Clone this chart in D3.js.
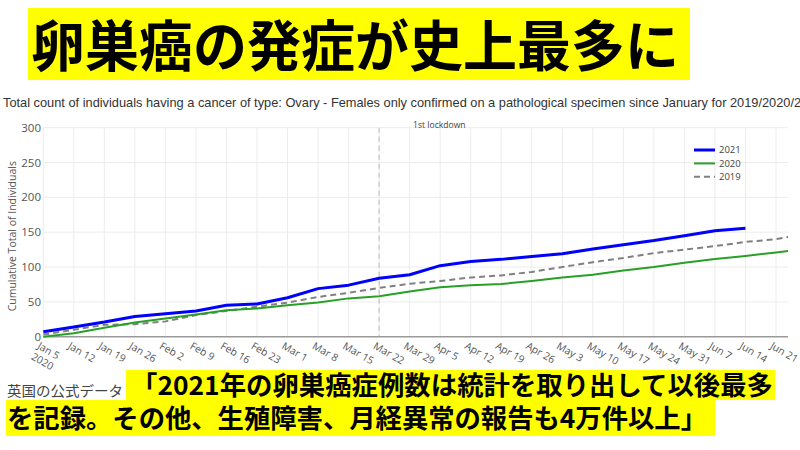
<!DOCTYPE html>
<html>
<head>
<meta charset="utf-8">
<script src="https://cdn.jsdelivr.net/npm/d3@7"></script>
<style>
  body { margin: 0; background: #fff; }
  svg { display: block; }
</style>
</head>
<body>
<svg width="800" height="450"></svg>
<script>
// weekly dates (week ending), 2020 calendar used as the shared x axis
const weeks = ["2020-01-05","2020-01-12","2020-01-19","2020-01-26","2020-02-02","2020-02-09",
  "2020-02-16","2020-02-23","2020-03-01","2020-03-08","2020-03-15","2020-03-22","2020-03-29",
  "2020-04-05","2020-04-12","2020-04-19","2020-04-26","2020-05-03","2020-05-10","2020-05-17",
  "2020-05-24","2020-05-31","2020-06-07","2020-06-14","2020-06-21","2020-06-28"];

const v2021 = [7,14,21,29,33,37,45,47,56,69,74,84,89,102,108,111,115,119,126,132,138,145,152,155.5];
const v2020 = [0,5,13,20.5,26,32,38,40.5,45,49,55,58,65,71,74,75.6,80,85,89,95,100,106,111.5,116,121,126];
const v2019 = [3,10,17,18,22,31,37,43,49,57,63,70,76,80,85,88,93,100,107,113,120,125,130,136,140,148];

const yTicks = [0,50,100,150,200,250,300];
const lockdownDate = "2020-03-22";
const seriesNames = ["2021","2020","2019"];

const svg = d3.select("svg");
const parse = d3.timeParse("%Y-%m-%d");
const dates = weeks.map(parse);

// Headline banner
svg.append("rect")
    .attr("x", 28).attr("y", 8)
    .attr("width", 662).attr("height", 72)
    .attr("fill", "#ffff00");
svg.append("text")
    .attr("x", 31).attr("y", 66)
    .attr("textLength", 648)
    .attr("lengthAdjust", "spacingAndGlyphs")
    .style("font-family", "'Noto Sans CJK JP'")
    .style("font-weight", "bold")
    .style("font-size", "55px")
    .text("卵巣癌の発症が史上最多に");

// Chart subtitle (runs off the right edge like the original screenshot)
svg.append("text")
    .attr("x", 3).attr("y", 107)
    .style("font-family", "'Liberation Sans', Arial, sans-serif")
    .style("font-size", "12.8px")
    .style("fill", "#333")
    .text("Total count of individuals having a cancer of type: Ovary - Females only confirmed on a pathological specimen since January for 2019/2020/2021");

// Scales
const x = d3.scaleTime()
    .domain([parse("2020-01-05"), new Date(2020, 5, 23, 18)])
    .range([43.3, 788]);
const y = d3.scaleLinear()
    .domain([0, 300])
    .range([336.7, 127.7]);

const plot = svg.append("g");

// grid
plot.append("g")
  .selectAll("line")
  .data(dates.filter(d => d <= x.domain()[1]))
  .join("line")
    .attr("x1", d => x(d)).attr("x2", d => x(d))
    .attr("y1", y(300)).attr("y2", y(0))
    .attr("stroke", "#ececec");
plot.append("g")
  .selectAll("line")
  .data(yTicks.slice(1))
  .join("line")
    .attr("x1", x.range()[0]).attr("x2", x.range()[1])
    .attr("y1", d => y(d)).attr("y2", d => y(d))
    .attr("stroke", "#ececec");

// y tick labels
plot.append("g")
  .selectAll("text")
  .data(yTicks)
  .join("text")
    .attr("x", 41)
    .attr("y", d => y(d))
    .attr("dy", "0.35em")
    .attr("text-anchor", "end")
    .style("font-family", "'Open Sans', sans-serif")
    .style("font-size", "11.5px")
    .style("fill", "#555")
    .text(d => d);

// y axis title
svg.append("text")
    .attr("transform", `translate(16,${(y(0) + y(300)) / 2 + 4}) rotate(-90)`)
    .attr("text-anchor", "middle")
    .style("font-family", "'Open Sans', sans-serif")
    .style("font-size", "10.5px")
    .style("fill", "#555")
    .text("Cumulative Total of Individuals");

// x tick labels, rotated
const fmt = d3.timeFormat("%b %-d");
const xl = plot.append("g")
  .selectAll("text")
  .data(dates.filter(d => d <= x.domain()[1]))
  .join("text")
    .attr("transform", d => `translate(${x(d) - 3},${y(0) + 5}) rotate(30)`)
    .attr("dy", "0.7em")
    .style("font-family", "'Open Sans', sans-serif")
    .style("font-size", "10.3px")
    .style("fill", "#555");
xl.append("tspan").text(d => fmt(d));
xl.filter((d, i) => i === 0)
  .append("tspan").attr("x", 0).attr("dy", "1.2em").text("2020");

// lockdown marker
plot.append("line")
    .attr("x1", x(parse(lockdownDate))).attr("x2", x(parse(lockdownDate)))
    .attr("y1", y(300)).attr("y2", y(0))
    .attr("stroke", "#c4c4c4")
    .attr("stroke-width", 1.2)
    .attr("stroke-dasharray", "5,4");
plot.append("text")
    .attr("x", 413).attr("y", 128)
    .style("font-family", "'Open Sans', sans-serif")
    .style("font-size", "8.6px")
    .style("fill", "#444")
    .text("1st lockdown");

// zero line
plot.append("line")
    .attr("x1", x.range()[0]).attr("x2", x.range()[1])
    .attr("y1", y(0)).attr("y2", y(0))
    .attr("stroke", "#999")
    .attr("stroke-width", 1.5);

// lines
svg.append("clipPath").attr("id", "clip")
  .append("rect")
    .attr("x", x.range()[0] - 3).attr("y", y(300))
    .attr("width", x.range()[1] - x.range()[0] + 3)
    .attr("height", y(0) - y(300) + 3);

const line = d3.line()
    .x((d, i) => x(dates[i]))
    .y(d => y(d));

const series = [
  { name: seriesNames[0], values: v2021, color: "#0000ff", width: 3, dash: null },
  { name: seriesNames[1], values: v2020, color: "#28a028", width: 2, dash: null },
  { name: seriesNames[2], values: v2019, color: "#808080", width: 2, dash: "6,4" }
];

const lines = svg.append("g").attr("clip-path", "url(#clip)");
series.slice().reverse().forEach(s => {
  lines.append("path")
    .datum(s.values)
    .attr("d", line)
    .attr("fill", "none")
    .attr("stroke", s.color)
    .attr("stroke-width", s.width)
    .attr("stroke-dasharray", s.dash)
    .attr("stroke-linejoin", "round");
});

// legend
const legend = svg.append("g").attr("transform", "translate(694,150)");
series.forEach((s, i) => {
  legend.append("line")
    .attr("x1", 0).attr("x2", 21)
    .attr("y1", i * 13.4).attr("y2", i * 13.4)
    .attr("stroke", s.color)
    .attr("stroke-width", s.width)
    .attr("stroke-dasharray", s.dash);
  legend.append("text")
    .attr("x", 25).attr("y", i * 13.4)
    .attr("dy", "0.35em")
    .style("font-family", "'Open Sans', sans-serif")
    .style("font-size", "9.5px")
    .style("fill", "#444")
    .text(s.name);
});

// bottom caption
svg.append("rect")
    .attr("x", 126).attr("y", 370)
    .attr("width", 649).attr("height", 30)
    .attr("fill", "#ffff00");
svg.append("rect")
    .attr("x", 6).attr("y", 400)
    .attr("width", 709).attr("height", 36)
    .attr("fill", "#ffff00");
svg.append("text")
    .attr("x", 7).attr("y", 396)
    .attr("textLength", 116)
    .attr("lengthAdjust", "spacingAndGlyphs")
    .style("font-family", "'Noto Sans CJK JP'")
    .style("font-size", "14px")
    .style("fill", "#444")
    .text("英国の公式データ");
svg.append("text")
    .attr("x", 131).attr("y", 395)
    .attr("textLength", 642)
    .attr("lengthAdjust", "spacingAndGlyphs")
    .style("font-family", "'Noto Sans CJK JP'")
    .style("font-weight", "bold")
    .style("font-size", "26px")
    .text("「2021年の卵巣癌症例数は統計を取り出して以後最多");
svg.append("text")
    .attr("x", 7).attr("y", 428)
    .attr("textLength", 700)
    .attr("lengthAdjust", "spacingAndGlyphs")
    .style("font-family", "'Noto Sans CJK JP'")
    .style("font-weight", "bold")
    .style("font-size", "26px")
    .text("を記録。その他、生殖障害、月経異常の報告も4万件以上」");
</script>
</body>
</html>
